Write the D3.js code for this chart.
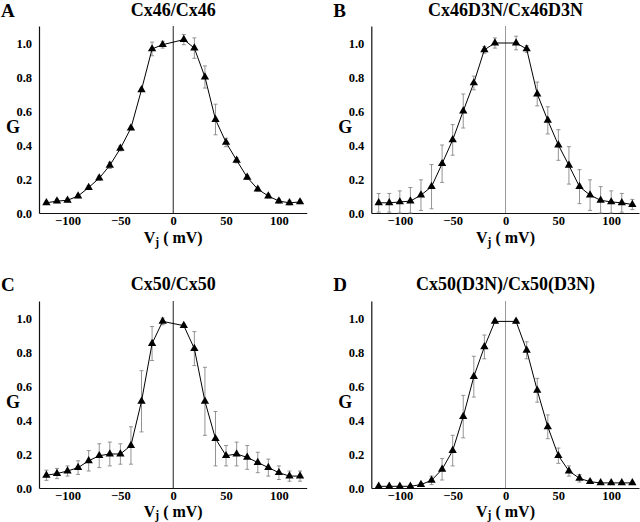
<!DOCTYPE html>
<html><head><meta charset="utf-8">
<script src="https://cdn.jsdelivr.net/npm/d3@7"></script>
<style>
html,body{margin:0;padding:0;background:#fff;}
svg{display:block;}
text{font-family:"Liberation Serif","Times New Roman",serif;font-weight:bold;fill:#000;}
</style></head>
<body>
<svg id="chart" width="640" height="522"></svg>
<script>
// Voltage steps (mV)
const vj = [-120,-110,-100,-90,-80,-70,-60,-50,-40,-30,-20,-10,10,20,30,40,50,60,70,80,90,100,110,120];
const xTicks = [-100,-50,0,50,100];
const yTicks = [0,0.2,0.4,0.6,0.8,1.0];
const panelLetters = ["A","B","C","D"];
const panelTitles = ["Cx46/Cx46","Cx46D3N/Cx46D3N","Cx50/Cx50","Cx50(D3N)/Cx50(D3N)"];

// Mean normalized conductance
const gA = [0.06,0.07,0.075,0.10,0.15,0.205,0.28,0.38,0.50,0.725,0.965,0.99,1.02,0.97,0.80,0.55,0.415,0.31,0.21,0.14,0.10,0.07,0.06,0.065];
const gB = [0.06,0.06,0.065,0.07,0.105,0.155,0.29,0.43,0.60,0.765,0.96,1.0,1.0,0.965,0.70,0.545,0.40,0.28,0.155,0.105,0.075,0.065,0.06,0.05];
const gC = [0.075,0.085,0.10,0.12,0.16,0.19,0.20,0.20,0.25,0.51,0.85,0.98,0.955,0.82,0.51,0.29,0.19,0.20,0.18,0.15,0.12,0.09,0.07,0.07];
const gD = [0.01,0.01,0.01,0.01,0.02,0.045,0.11,0.22,0.42,0.655,0.83,0.98,0.98,0.81,0.575,0.36,0.19,0.10,0.057,0.037,0.03,0.03,0.03,0.03];

// Error (SD)
const eA = [0.01,0.01,0.01,0.01,0.01,0.012,0.018,0.015,0.01,0.01,0.04,0.02,0.03,0.06,0.065,0.09,0.025,0.015,0.012,0.012,0.012,0.012,0.012,0.01];
const eB = [0.055,0.055,0.065,0.08,0.09,0.13,0.11,0.09,0.10,0.04,0.02,0.03,0.04,0.02,0.07,0.08,0.09,0.11,0.10,0.09,0.08,0.065,0.055,0.03];
const eC = [0.03,0.03,0.03,0.04,0.06,0.07,0.07,0.06,0.11,0.18,0.10,0.02,0.01,0.10,0.20,0.16,0.06,0.07,0.07,0.06,0.05,0.04,0.03,0.03];
const eD = [0.005,0.005,0.005,0.005,0.01,0.025,0.063,0.09,0.125,0.12,0.07,0.01,0.01,0.05,0.07,0.07,0.045,0.03,0.022,0.01,0.005,0.005,0.005,0.005];

const means = [gA,gB,gC,gD];
const errs = [eA,eB,eC,eD];
const zeroColors = ["#222","#999","#222","#999"];

const svg = d3.select("#chart");
const W = 267.7, H = 187;

for (let p = 0; p < 4; p++) {
  const col = p % 2, row = Math.floor(p / 2);
  const left = 39 + col * 332.3;
  const bottom = 213 + row * 275;
  const g = svg.append("g").attr("transform", `translate(${left},${bottom - H})`);
  const x = d3.scaleLinear().domain([-127, 126.3]).range([0, W]);
  const y = d3.scaleLinear().domain([0, 1.1]).range([H, 0]);

  // axes
  const xa = g.append("g").attr("transform", `translate(0,${H})`)
    .call(d3.axisBottom(x).tickValues(xTicks).tickSize(0).tickSizeOuter(0).tickPadding(3));
  const ya = g.append("g")
    .call(d3.axisLeft(y).tickValues(yTicks).tickFormat(d3.format(".1f")).tickSize(0).tickSizeOuter(0).tickPadding(7));
  [xa, ya].forEach(a => {
    a.select(".domain").attr("stroke", "#111").attr("stroke-width", 1.2);
    a.selectAll("text").style("font-size", "12.5px").style("font-family", "Liberation Serif").style("font-weight", "bold").attr("fill", "#000");
  });

  // zero line
  g.append("line").attr("x1", x(0)).attr("x2", x(0)).attr("y1", y(0)).attr("y2", y(1.1))
    .attr("stroke", zeroColors[p]).attr("stroke-width", 1);

  const data = vj.map((v, i) => ({v, m: means[p][i], e: errs[p][i]}));

  // error bars
  const eb = g.append("g").attr("stroke", "#888").attr("stroke-width", 0.9);
  data.forEach(d => {
    const lo = Math.max(0, d.m - d.e), hi = d.m + d.e;
    eb.append("line").attr("x1", x(d.v)).attr("x2", x(d.v)).attr("y1", y(lo)).attr("y2", y(hi));
    eb.append("line").attr("x1", x(d.v) - 2).attr("x2", x(d.v) + 2).attr("y1", y(lo)).attr("y2", y(lo));
    eb.append("line").attr("x1", x(d.v) - 2).attr("x2", x(d.v) + 2).attr("y1", y(hi)).attr("y2", y(hi));
  });

  // line
  g.append("path").datum(data)
    .attr("d", d3.line().x(d => x(d.v)).y(d => y(d.m)))
    .attr("fill", "none").attr("stroke", "#000").attr("stroke-width", 1);

  // markers
  g.selectAll(".mk").data(data).join("path")
    .attr("transform", d => `translate(${x(d.v)},${y(d.m)})`)
    .attr("d", d3.symbol().type(d3.symbolTriangle).size(30))
    .attr("fill", "#000");

  // labels
  const ox = left - 39;
  const oy = row * 275;
  svg.append("text").attr("x", ox + 1).attr("y", oy + 17 - row * 1)
    .style("font-size", "19px").text(panelLetters[p]);
  svg.append("text").attr("x", left + x(0)).attr("y", oy + 16 - row * 1)
    .attr("text-anchor", "middle").style("font-size", "18px").text(panelTitles[p]);
  svg.append("text").attr("x", ox + 6).attr("y", oy + 133)
    .style("font-size", "18px").text("G");
  const vl = svg.append("text").attr("x", left + x(0)).attr("y", oy + 243 - row * 1.5)
    .attr("text-anchor", "middle").style("font-size", "16px");
  vl.append("tspan").text("V");
  vl.append("tspan").attr("dy", 2.5).style("font-size", "11.5px").text("j");
  vl.append("tspan").attr("dy", -2.5).text(" ( mV)");
}
</script>
</body></html>
